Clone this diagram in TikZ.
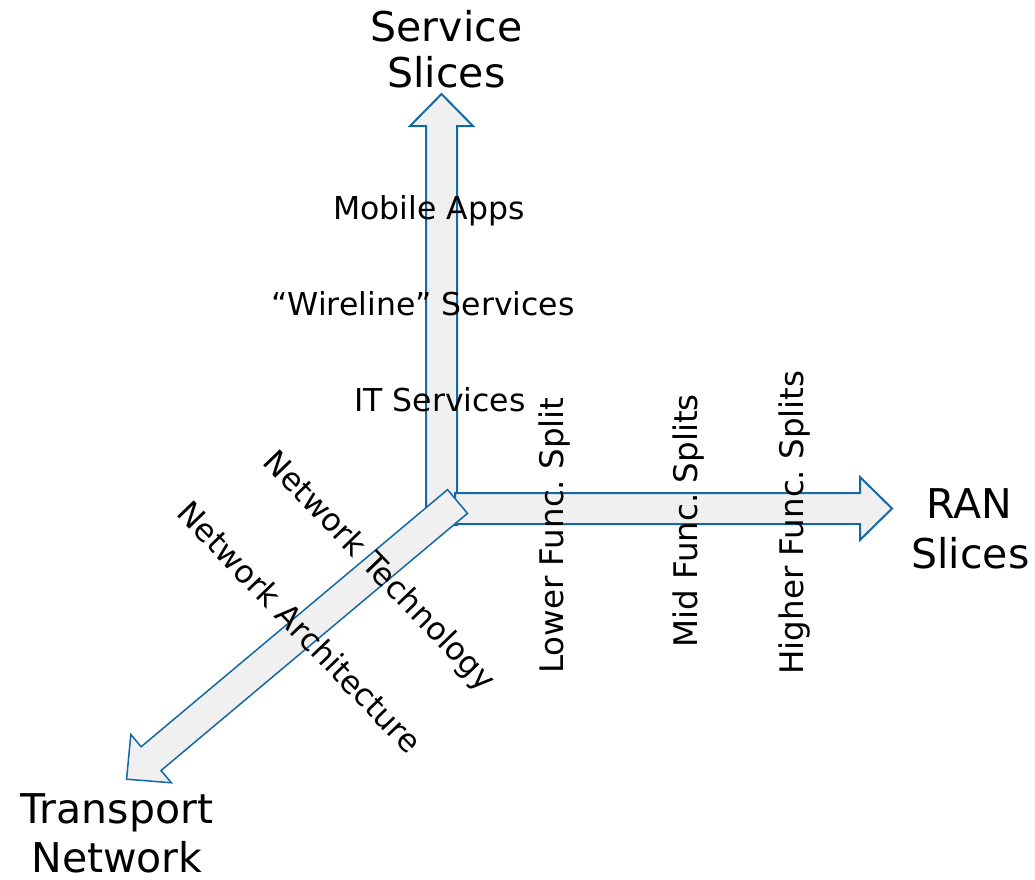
\documentclass[tikz,border=0pt]{standalone}
\usepackage{fontspec}
\setmainfont{DejaVu Sans}
\definecolor{edgeblue}{RGB}{21,104,163}
\definecolor{bodygray}{RGB}{240,240,240}
\tikzset{
  axisarrow/.style={draw=edgeblue, fill=bodygray, line width=2pt, line join=miter},
  diagarrow/.style={axisarrow, line width=1.5pt},
  smalltext/.style={font=\fontsize{31.5}{38}\selectfont, inner sep=0pt},
  splittext/.style={font=\fontsize{32.5}{39}\selectfont, inner sep=0pt},
  largetext/.style={font=\fontsize{41}{49}\selectfont, inner sep=0pt},
}
% block arrow: #1 start point, #2 direction angle, #3 length, #4 style
\newcommand\blockarrowat[4]{%
  \begin{scope}[shift={#1}, rotate=#2]
    \draw[#4] (0,-15.5) -- ({#3-32},-15.5) -- ({#3-32},-31.5) -- (#3,0)
      -- ({#3-32},31.5) -- ({#3-32},15.5) -- (0,15.5) -- cycle;
  \end{scope}}
\begin{document}
\begin{tikzpicture}[x=1pt, y=-1pt]
  \useasboundingbox (0,0) rectangle (1035,879);

  % the three axes
  \blockarrowat{(441.5,525)}{90}{431}{axisarrow}
  \blockarrowat{(455,508.5)}{0}{437}{axisarrow}
  \blockarrowat{(457.5,501.5)}{220}{432}{diagarrow}

  % axis titles
  \node[largetext, anchor=base] (svcA) at (446.5,41) {Service};
  \node[largetext, anchor=base] (svcB) at (446.5,87.5) {Slices};
  \node[largetext, anchor=base] (ranA) at (969,518) {RAN};
  \node[largetext, anchor=base] (ranB) at (970.5,568) {Slices};
  \node[largetext, anchor=base] (trA) at (117,823) {Transport};
  \node[largetext, anchor=base] (trB) at (117,872) {Network};

  % service slice labels
  \node[smalltext, anchor=base] (mob) at (429,219) {Mobile Apps};
  \node[smalltext, anchor=base] (wire) at (423,315) {“Wireline” Services};
  \node[smalltext, anchor=base] (its) at (440,411) {IT Services};

  % RAN slice labels
  \node[splittext, anchor=base, rotate=90] (low) at (563,535.5) {Lower Func.\ Split};
  \node[splittext, anchor=base, rotate=90] (mid) at (697,521) {Mid Func.\ Splits};
  \node[splittext, anchor=base, rotate=90] (high) at (803,522.5) {Higher Func.\ Splits};

  % transport labels
  \node[smalltext, rotate=-46] (tech) at (378.5,572) {Network Technology};
  \node[smalltext, rotate=-46] (arch) at (300,627) {Network Architecture};
\end{tikzpicture}
\end{document}
